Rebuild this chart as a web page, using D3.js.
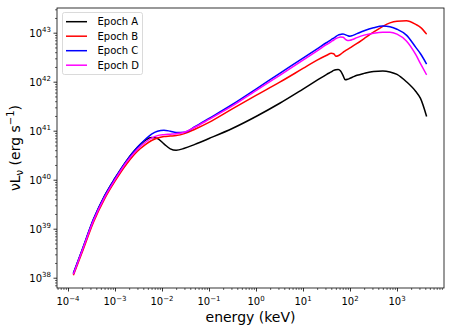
<!DOCTYPE html>
<html>
<head>
<meta charset="utf-8">
<script src="https://cdn.jsdelivr.net/npm/d3@7"></script>
<style>
  body { margin: 0; background: #fff; }
  text { font-family: "DejaVu Sans", sans-serif; fill: #000; }
</style>
</head>
<body>
<div id="chart"></div>
<script>
// photon energy grid (keV), shared by all epochs
const energy = [1.3e-4, 2e-4, 3.5e-4, 6e-4, 1e-3, 1.8e-3, 3e-3, 4.5e-3, 6e-3, 8e-3,
  1.1e-2, 1.5e-2, 2e-2, 3e-2, 5e-2, 0.1, 0.32, 1, 3.2, 10,
  20, 32, 40, 45, 50, 56, 63, 71, 79, 89,
  100, 112, 141, 200, 316, 500, 708, 1000, 1585, 2512,
  3162, 4266];

// log10 of nuL_nu (erg/s)
const logLumA = [38.08, 38.56, 39.19, 39.67, 40.03, 40.40, 40.66, 40.81, 40.86, 40.84,
  40.73, 40.63, 40.60, 40.64, 40.72, 40.84, 41.05, 41.29, 41.56, 41.85,
  42.03, 42.15, 42.20, 42.23, 42.245, 42.25, 42.22, 42.13, 42.04, 42.05,
  42.07, 42.09, 42.13, 42.17, 42.21, 42.22, 42.20, 42.15, 42.00, 41.80,
  41.66, 41.29];
const logLumB = [38.05, 38.52, 39.14, 39.61, 39.97, 40.33, 40.58, 40.72, 40.80, 40.85,
  40.88, 40.89, 40.90, 40.94, 41.03, 41.17, 41.45, 41.72, 41.99, 42.27,
  42.44, 42.54, 42.58, 42.57, 42.52, 42.53, 42.56, 42.60, 42.63, 42.66,
  42.69, 42.72, 42.78, 42.88, 43.01, 43.13, 43.20, 43.235, 43.245, 43.17,
  43.11, 42.97];
const logLumC = [38.09, 38.57, 39.20, 39.67, 40.03, 40.40, 40.66, 40.83, 40.93, 40.99,
  41.01, 40.99, 40.965, 40.97, 41.08, 41.25, 41.54, 41.85, 42.17, 42.48,
  42.67, 42.80, 42.86, 42.89, 42.92, 42.95, 42.965, 42.975, 42.96, 42.94,
  42.93, 42.94, 42.98, 43.04, 43.10, 43.135, 43.12, 43.07, 42.95, 42.70,
  42.57, 42.36];
const logLumD = [38.07, 38.55, 39.17, 39.64, 40.00, 40.37, 40.62, 40.77, 40.85, 40.90,
  40.92, 40.93, 40.94, 40.97, 41.07, 41.23, 41.51, 41.82, 42.13, 42.44,
  42.63, 42.76, 42.82, 42.85, 42.88, 42.90, 42.91, 42.905, 42.87, 42.84,
  42.845, 42.86, 42.90, 42.95, 42.99, 43.01, 43.01, 42.97, 42.83, 42.55,
  42.37, 42.14];

const seriesNames = ["Epoch A", "Epoch B", "Epoch C", "Epoch D"];
const seriesColors = ["black", "red", "blue", "magenta"];
const seriesLum = [logLumA, logLumB, logLumC, logLumD];

const xTickExps = [-4, -3, -2, -1, 0, 1, 2, 3];
const yTickExps = [38, 39, 40, 41, 42, 43];

const width = 458, height = 327;
const plot = { left: 57, top: 8, right: 444, bottom: 288 };

const svg = d3.select("#chart").append("svg")
  .attr("width", width)
  .attr("height", height);

const x = d3.scaleLog()
  .domain([Math.pow(10, -4.234), 1e4])
  .range([plot.left, plot.right]);
const y = d3.scaleLog()
  .domain([Math.pow(10, 37.79), Math.pow(10, 43.504)])
  .range([plot.bottom, plot.top]);

// minor ticks at 2..9 of every decade inside the domain
function minorTicks(scale) {
  const [lo, hi] = scale.domain();
  const out = [];
  for (let e = Math.floor(Math.log10(lo)); e <= Math.ceil(Math.log10(hi)); e++) {
    for (let k = 2; k <= 9; k++) {
      const v = k * Math.pow(10, e);
      if (v >= lo && v <= hi) out.push(v);
    }
  }
  return out;
}

function styleAxis(g, w) {
  g.select(".domain").remove();
  g.selectAll(".tick line").attr("stroke", "#000").attr("stroke-width", w);
  g.selectAll(".tick text").remove();
}

// x axis
svg.append("g")
  .attr("transform", `translate(0,${plot.bottom})`)
  .call(d3.axisBottom(x).tickValues(minorTicks(x)).tickSize(2).tickFormat(""))
  .call(g => styleAxis(g, 0.6));
svg.append("g")
  .attr("transform", `translate(0,${plot.bottom})`)
  .call(d3.axisBottom(x).tickValues(xTickExps.map(e => Math.pow(10, e))).tickSize(3.5).tickFormat(""))
  .call(g => styleAxis(g, 0.8));

// y axis
svg.append("g")
  .attr("transform", `translate(${plot.left},0)`)
  .call(d3.axisLeft(y).tickValues(minorTicks(y)).tickSize(2).tickFormat(""))
  .call(g => styleAxis(g, 0.6));
svg.append("g")
  .attr("transform", `translate(${plot.left},0)`)
  .call(d3.axisLeft(y).tickValues(yTickExps.map(e => Math.pow(10, e))).tickSize(3.5).tickFormat(""))
  .call(g => styleAxis(g, 0.8));

// power-of-ten tick labels
function powLabel(sel, exp) {
  sel.append("tspan").text("10");
  sel.append("tspan")
    .attr("dy", -4.5)
    .style("font-size", "7px")
    .text(String(exp).replace("-", "\u2212"));
}

xTickExps.forEach(e => {
  svg.append("text")
    .attr("x", x(Math.pow(10, e)))
    .attr("y", plot.bottom + 17)
    .attr("text-anchor", "middle")
    .style("font-size", "10px")
    .call(powLabel, e);
});
yTickExps.forEach(e => {
  svg.append("text")
    .attr("x", plot.left - 6)
    .attr("y", y(Math.pow(10, e)) + 4)
    .attr("text-anchor", "end")
    .style("font-size", "10px")
    .call(powLabel, e);
});

// curves
const line = d3.line()
  .x(d => x(d[0]))
  .y(d => y(d[1]))
  .curve(d3.curveMonotoneX);

seriesLum.forEach((lum, i) => {
  const pts = energy.map((e, j) => [e, Math.pow(10, lum[j])]);
  svg.append("path")
    .datum(pts)
    .attr("d", line)
    .attr("fill", "none")
    .attr("stroke", seriesColors[i])
    .attr("stroke-width", 1.5);
});

// frame
svg.append("rect")
  .attr("x", plot.left)
  .attr("y", plot.top)
  .attr("width", plot.right - plot.left)
  .attr("height", plot.bottom - plot.top)
  .attr("fill", "none")
  .attr("stroke", "#000")
  .attr("stroke-width", 0.8);

// axis labels
svg.append("text")
  .attr("x", (plot.left + plot.right) / 2)
  .attr("y", 322)
  .attr("text-anchor", "middle")
  .style("font-size", "14px")
  .text("energy (keV)");

const yl = svg.append("text")
  .attr("transform", `translate(20,${(plot.top + plot.bottom) / 2}) rotate(-90)`)
  .attr("text-anchor", "middle")
  .style("font-size", "14px");
yl.append("tspan").text("\u03bdL");
yl.append("tspan").attr("dy", 3).style("font-size", "10px").text("\u03bd");
yl.append("tspan").attr("dy", -3).text(" (erg s");
yl.append("tspan").attr("dy", -6).style("font-size", "10px").text("\u22121");
yl.append("tspan").attr("dy", 6).text(")");

// legend
const legend = svg.append("g");
legend.append("rect")
  .attr("x", 62.5).attr("y", 12.5)
  .attr("width", 80).attr("height", 62)
  .attr("rx", 2)
  .attr("fill", "#fff").attr("fill-opacity", 0.8)
  .attr("stroke", "#d0d0d0").attr("stroke-width", 0.8);
seriesNames.forEach((name, i) => {
  const cy = 21.7 + i * 14.5;
  legend.append("line")
    .attr("x1", 66).attr("x2", 87)
    .attr("y1", cy).attr("y2", cy)
    .attr("stroke", seriesColors[i]).attr("stroke-width", 1.5);
  legend.append("text")
    .attr("x", 97.5).attr("y", cy + 3.6)
    .style("font-size", "10px")
    .text(name);
});
</script>
</body>
</html>
